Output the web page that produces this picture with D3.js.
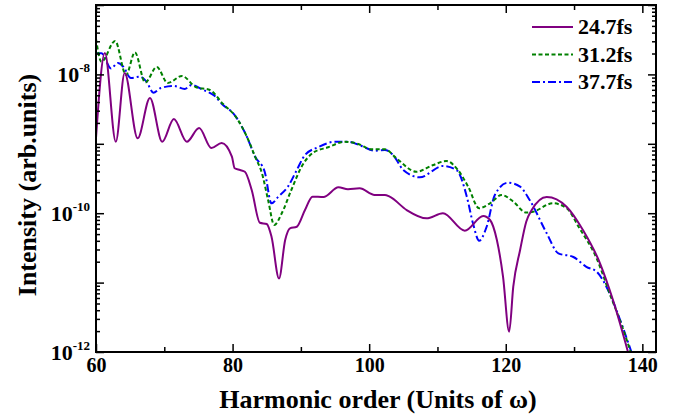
<!DOCTYPE html>
<html><head><meta charset="utf-8">
<script src="https://cdn.jsdelivr.net/npm/d3@7"></script>
<style>body{margin:0;background:#fff}svg{display:block}</style>
</head><body><svg id="c" width="679" height="418"></svg>
<script>
const F = "'Liberation Serif','Times New Roman',Times,'DejaVu Serif','Noto Serif',serif";
// Harmonic order (x) and intensity (arb. units) for each pulse duration
const h247 = [60.0,61.3,62.9,64.2,66.1,67.9,69.7,71.4,73.3,75.1,76.9,78.4,79.9,80.3,81.1,81.8,82.8,84.0,85.0,85.7,86.8,87.7,88.4,89.4,90.6,91.7,93.3,95.5,96.9,98.6,100.8,102.3,103.0,105.5,108.4,110.8,114.0,116.7,117.7,118.7,119.6,120.5,121.1,122.1,123.0,123.8,126.0,128.9,131.3,133.8,135.7,137.9];
const i247 = [1.21e-9,2.03e-8,1.07e-9,1.05e-8,1.2e-9,4.57e-9,1.07e-9,2.27e-9,1.07e-9,1.69e-9,8.69e-10,1.03e-9,6.52e-10,4.44e-10,4.19e-10,3.96e-10,2.16e-10,7.29e-11,6.98e-11,4.58e-11,1.15e-11,4.11e-11,6.05e-11,6.38e-11,1.11e-10,1.73e-10,1.71e-10,2.36e-10,2.21e-10,2.28e-10,1.83e-10,1.83e-10,1.73e-10,1.11e-10,8.43e-11,9.98e-11,5.6e-11,9.12e-11,7.98e-11,4.11e-11,1.22e-11,1.96e-12,8.73e-12,2.95e-11,7.55e-11,1.11e-10,1.71e-10,1.24e-10,5.73e-11,1.9e-11,5.61e-12,1.0e-12];

const h312 = [60.0,60.8,62.8,64.4,65.7,67.2,68.9,70.5,72.6,74.6,76.7,78.6,80.5,82.1,83.3,84.3,85.2,86.1,87.2,88.6,90.1,91.8,94.0,96.4,98.4,100.3,102.3,104.0,106.9,109.4,111.3,113.0,114.5,116.1,117.7,119.4,121.1,123.0,124.0,126.9,128.9,130.8,133.3,135.2,136.7,138.3];
const i312 = [3.24e-8,1.52e-8,3.03e-8,9.8e-9,2.08e-8,7.64e-9,1.28e-8,7.52e-9,9.48e-9,6.58e-9,5.96e-9,3.74e-9,2.43e-9,1.26e-9,6.52e-10,3.76e-10,1.55e-10,6.76e-11,9.98e-11,2.16e-10,4.68e-10,7.45e-10,8.91e-10,1.07e-9,9.94e-10,8.34e-10,8.34e-10,6.18e-10,3.96e-10,4.95e-10,5.65e-10,4.19e-10,2.41e-10,1.18e-10,1.39e-10,1.83e-10,1.47e-10,1.02e-10,1.05e-10,1.39e-10,1.18e-10,6.05e-11,2.24e-11,7.02e-12,2.89e-12,1.0e-12];

const h377 = [60.0,60.8,62.2,63.2,64.0,65.1,66.4,67.4,68.4,69.5,71.4,73.0,74.0,75.7,77.3,78.6,80.1,82.1,83.3,84.7,85.7,86.7,88.1,89.4,90.6,92.5,95.0,96.9,98.9,100.8,102.3,103.5,105.0,107.4,110.8,112.8,114.3,115.2,116.1,117.2,118.4,120.3,122.1,123.5,126.0,127.7,129.9,131.8,133.3,135.2,136.8,138.4];
const i377 = [2.01e-8,2.01e-8,1.22e-8,1.46e-8,1.29e-8,8.87e-9,9.27e-9,7.85e-9,5.45e-9,6.37e-9,6.81e-9,6.17e-9,7.03e-9,5.96e-9,4.97e-9,3.62e-9,2.75e-9,1.26e-9,6.52e-10,3.96e-10,1.39e-10,1.73e-10,2.41e-10,4.19e-10,6.9e-10,8.91e-10,1.07e-9,1.07e-9,9.29e-10,7.96e-10,8.15e-10,6.9e-10,4.19e-10,3.29e-10,4.79e-10,4.19e-10,1.73e-10,7.14e-11,4.02e-11,6.38e-11,1.83e-10,2.75e-10,2.41e-10,1.55e-10,5.13e-11,2.64e-11,2.34e-11,1.69e-11,1.44e-11,7.02e-12,2.8e-12,1.0e-12];

const seriesNames = ["24.7fs","31.2fs","37.7fs"];
const xMajorTicks = [60,80,100,120,140];
const xMinorTicks = [70,90,110,130];
const yLabelExponents = [-12,-10,-8];

const L=96,R=656,T=5,B=352;
const svg=d3.select("#c");
const x=d3.scaleLinear().domain([60,142]).range([L,R]);
const y=d3.scaleLog().domain([1e-12,1e-7]).range([B,T]);

const yMajor=d3.range(-12,-6).map(e=>Math.pow(10,e));
const yMinor=[];
d3.range(-12,-7).forEach(e=>{for(let k=2;k<=9;k++)yMinor.push(k*Math.pow(10,e));});

svg.append("defs").append("clipPath").attr("id","clip").append("rect")
  .attr("x",L).attr("y",T).attr("width",R-L).attr("height",B-T);

const series=[
  {name:seriesNames[0],h:h247,v:i247,color:"#800080",dash:null},
  {name:seriesNames[1],h:h312,v:i312,color:"#008000",dash:"4,2.5"},
  {name:seriesNames[2],h:h377,v:i377,color:"#0000ff",dash:"8,3,2,3"}
];
const line=d3.line().x(d=>x(d[0])).y(d=>y(d[1])).curve(d3.curveMonotoneX);
const g=svg.append("g").attr("clip-path","url(#clip)");
series.slice().reverse().forEach(s=>{
  g.append("path").datum(d3.zip(s.h,s.v)).attr("d",line)
   .attr("fill","none").attr("stroke",s.color).attr("stroke-width",2)
   .attr("stroke-dasharray",s.dash);
});

function styleAxis(sel){sel.select(".domain").remove();sel.selectAll("line").attr("stroke","#000").attr("stroke-width",1.5);}
// bottom
const bx=svg.append("g").attr("transform",`translate(0,${B})`)
  .call(d3.axisBottom(x).tickValues(xMajorTicks).tickSizeInner(-8).tickSizeOuter(0).tickPadding(6).tickFormat(d3.format("d")))
  .call(styleAxis);
bx.attr("font-family",F).attr("font-size",20).attr("font-weight","bold");
bx.selectAll("text").attr("fill","#000");
svg.append("g").attr("transform",`translate(0,${B})`)
  .call(d3.axisBottom(x).tickValues(xMinorTicks).tickSizeInner(-5).tickSizeOuter(0).tickFormat(""))
  .call(styleAxis);
// top
svg.append("g").attr("transform",`translate(0,${T})`)
  .call(d3.axisTop(x).tickValues(xMajorTicks).tickSizeInner(-8).tickSizeOuter(0).tickFormat("")).call(styleAxis);
svg.append("g").attr("transform",`translate(0,${T})`)
  .call(d3.axisTop(x).tickValues(xMinorTicks).tickSizeInner(-5).tickSizeOuter(0).tickFormat("")).call(styleAxis);
// left/right
[[L,d3.axisLeft],[R,d3.axisRight]].forEach(([px,fn])=>{
  svg.append("g").attr("transform",`translate(${px},0)`)
    .call(fn(y).tickValues(yMajor).tickSizeInner(-8).tickSizeOuter(0).tickFormat("")).call(styleAxis);
  svg.append("g").attr("transform",`translate(${px},0)`)
    .call(fn(y).tickValues(yMinor).tickSizeInner(-4).tickSizeOuter(0).tickFormat("")).call(styleAxis);
});
// y labels
yLabelExponents.forEach(e=>{
  const t=svg.append("text").attr("x",90).attr("y",y(Math.pow(10,e))+7.5)
    .attr("text-anchor","end").attr("font-size",22).attr("fill","#000")
    .attr("font-family",F).attr("font-weight","bold");
  t.append("tspan").text("10");
  t.append("tspan").attr("font-size",13).attr("dy",-10).text("-"+Math.abs(e));
});
// frame
svg.append("rect").attr("x",L).attr("y",T).attr("width",R-L).attr("height",B-T)
  .attr("fill","none").attr("stroke","#000").attr("stroke-width",2);

// titles
svg.append("text").attr("x",378).attr("y",408).attr("text-anchor","middle")
  .attr("font-family",F).attr("font-weight","bold")
  .attr("font-size",26).attr("fill","#000").text("Harmonic order (Units of ω)");
svg.append("text").attr("transform","translate(36,185) rotate(-90)").attr("text-anchor","middle")
  .attr("font-family",F).attr("font-weight","bold")
  .attr("font-size",26).attr("fill","#000").text("Intensity (arb.units)");

// legend
series.forEach((s,i)=>{
  const yy=27+i*27.5;
  svg.append("line").attr("x1",532).attr("x2",573).attr("y1",yy).attr("y2",yy)
    .attr("stroke",s.color).attr("stroke-width",2).attr("stroke-dasharray",s.dash);
  svg.append("text").attr("x",578).attr("y",yy+7).attr("font-family",F).attr("font-weight","bold")
    .attr("font-size",22).attr("fill","#000").text(s.name);
});
</script></body></html>
